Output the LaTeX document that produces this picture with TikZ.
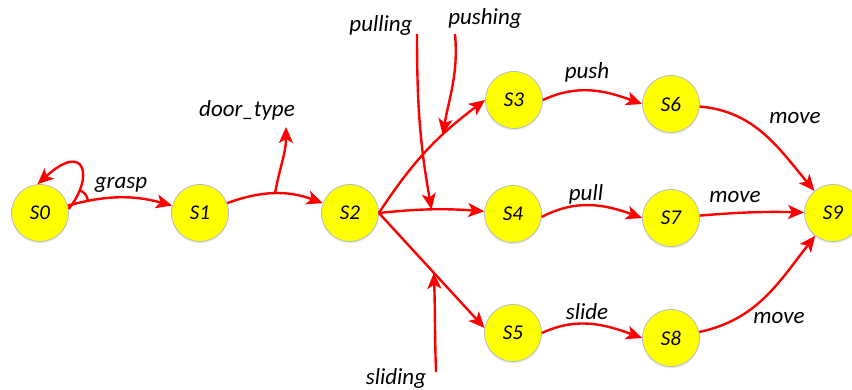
\documentclass[tikz,border=0pt]{standalone}
\usepackage{fontspec}
\setmainfont{Carlito}
\usetikzlibrary{arrows.meta,shadows}
\definecolor{nodeY}{HTML}{FFFF00}
\definecolor{nodeB}{HTML}{B4BCC8}
\definecolor{edgeR}{HTML}{FF0000}
\begin{document}
\begin{tikzpicture}[x=1pt,y=-1pt,
  state/.style={circle, fill=nodeY, draw=nodeB, line width=0.8pt, minimum size=57pt, inner sep=0pt,
    font=\fontsize{21}{24}\selectfont\itshape,
    drop shadow={shadow xshift=0pt, shadow yshift=-2pt, opacity=0.15}},
  lbl/.style={font=\fontsize{23}{26}\selectfont\itshape, inner sep=0pt},
  edge/.style={draw=edgeR, line width=2.4pt, -{Stealth[length=16pt,width=14pt,inset=4pt]}},
  plain/.style={draw=edgeR, line width=2.4pt}]
\useasboundingbox (0,0) rectangle (852,390);

% states
\node[state] (S0) at (40,213) {S0};
\node[state] (S1) at (200,213) {S1};
\node[state] (S2) at (350,213) {S2};
\node[state] (S3) at (514,100) {S3};
\node[state] (S4) at (513,214) {S4};
\node[state] (S5) at (513,333) {S5};
\node[state] (S6) at (671,104) {S6};
\node[state] (S7) at (671,218) {S7};
\node[state] (S8) at (671,338) {S8};
\node[state] (S9) at (833,213) {S9};

% labels
\node[lbl] (grasp) at (121,185) {grasp};
\node[lbl] (door) at (247,110) {door\_type};
\node[lbl] (pulling) at (381,25) {pulling};
\node[lbl] (pushing) at (485,18) {pushing};
\node[lbl] (sliding) at (396,378) {sliding};
\node[lbl] (push) at (587,72) {push};
\node[lbl] (pull) at (586,194) {pull};
\node[lbl] (slide) at (587,312) {slide};
\node[lbl] (move1) at (795,118) {move};
\node[lbl] (move2) at (735,197) {move};
\node[lbl] (move3) at (779,318) {move};

% free ends
\coordinate (dtip) at (286,127);
\coordinate (pl0) at (417,34);
\coordinate (ps0) at (455,34);
\coordinate (sl0) at (436,372);

% S0 self loop and grasp
\draw[edge] (S0) to[bend left=15] coordinate[pos=0.18] (g1) (S1);
\draw[edge] (S0.8) .. controls (94,178) and (86,140) .. coordinate[pos=0.2] (lp) (S0.95);
\draw[plain] (lp) to[bend left=30] (g1);

% S1 -> S2 with door_type branch
\draw[edge] (S1) to[bend left=20] coordinate[pos=0.5] (d0) (S2);
\draw[edge] (d0) to[out=80,in=-90] (dtip);

% S2 fan-out
\draw[edge] (S2.east) to[bend left=10] coordinate[pos=0.66] (p3) (S3.180);
\draw[edge] (S2.east) to[bend left=5] coordinate[pos=0.5] (p4) (S4);
\draw[edge] (S2.east) -- coordinate[pos=0.52] (p5) (S5.170);

% inputs
\draw[edge] (pl0) to[out=-90,in=100] (p4);
\draw[edge] (ps0) to[out=-85,in=80] (p3);
\draw[edge] (sl0) to[out=92,in=-88] (p5);

% actions
\draw[edge] (S3.east) to[out=25,in=160] (S6.west);
\draw[edge] (S4.-6) to[out=28,in=160] (S7.west);
\draw[edge] (S5.east) to[out=25,in=160] (S8.west);

% move
\draw[edge] (S6) to[out=-5,in=130] (S9);
\draw[edge] (S7) to[bend left=3] (S9);
\draw[edge] (S8) to[out=12,in=-128] (S9);
\end{tikzpicture}
\end{document}
